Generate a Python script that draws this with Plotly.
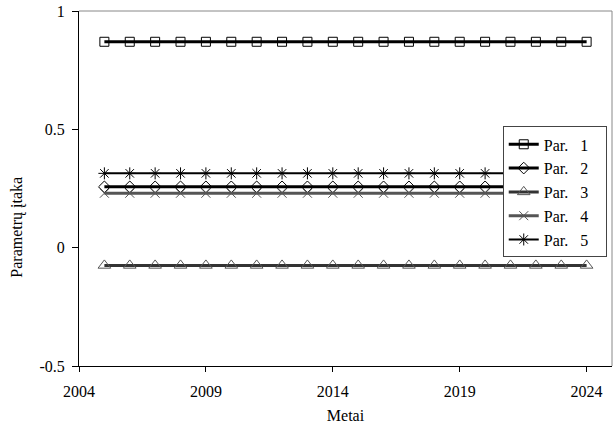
import plotly.graph_objects as go

years = list(range(2005, 2025))
par1 = [0.87] * 20
par2 = [0.257] * 20
par3 = [-0.075] * 20
par4 = [0.230] * 20
par5 = [0.314] * 20

NB = "\u00a0"
series_names = [f"Par.{NB*3}{k}{NB*3}" for k in range(1, 6)]
series_vals = [par1, par2, par3, par4, par5]
styles = [
    dict(line=dict(color="black", width=3), marker=dict(symbol="square-open", size=9, color="black", line=dict(width=1))),
    dict(line=dict(color="black", width=3), marker=dict(symbol="diamond-open", size=9, color="black", line=dict(width=1))),
    dict(line=dict(color="#333333", width=3), marker=dict(symbol="triangle-up-open", size=11, color="#555555", line=dict(width=1))),
    dict(line=dict(color="#555555", width=3), marker=dict(symbol="x-thin-open", size=9, color="#555555", line=dict(width=1, color="#555555"))),
    dict(line=dict(color="black", width=2), marker=dict(symbol="asterisk-open", size=10, color="black", line=dict(width=1, color="black"))),
]

x_ticks = [2004, 2009, 2014, 2019, 2024]
y_ticks = [-0.5, 0, 0.5, 1]
y_ticklabels = ["-0.5", "0", "0.5", "1"]
x_title = "Metai"
y_title = "Parametrų įtaka"

FAM = "Liberation Serif"
FS = 16

fig = go.Figure()
for i, (name, vals, st) in enumerate(zip(series_names, series_vals, styles)):
    fig.add_trace(go.Scatter(x=years, y=vals, mode="lines+markers", name=name,
                             legendgroup=str(i), **st))

font = dict(family=FAM, size=FS, color="black")
fig.update_layout(
    width=613, height=433,
    margin=dict(l=79, r=1, t=11, b=67),
    paper_bgcolor="white", plot_bgcolor="white",
    font=font,
    showlegend=True,
    legend=dict(x=0.795, y=0.675, xanchor="left", yanchor="top",
                bordercolor="#444444", borderwidth=1, bgcolor="white",
                font=dict(family=FAM, size=FS, color="black"),
                tracegroupgap=0, traceorder="grouped", itemwidth=30),
    xaxis=dict(range=[2004, 2025], tickvals=x_ticks, showgrid=False, zeroline=False,
               showline=True, linecolor="black", linewidth=1,
               ticks="outside", ticklen=5, tickcolor="black", automargin=False,
               ticklabelstandoff=6,
               tickfont=dict(family=FAM, size=FS),
               title=dict(text=x_title, standoff=10, font=dict(family=FAM, size=FS))),
    yaxis=dict(range=[-0.5, 1], tickvals=y_ticks, ticktext=y_ticklabels,
               showgrid=False, zeroline=False,
               showline=True, linecolor="black", linewidth=1,
               ticks="outside", ticklen=6, tickcolor="black", automargin=False,
               ticklabelstandoff=4,
               tickfont=dict(family=FAM, size=FS)),
    annotations=[
        dict(text=y_title, textangle=-90, xref="paper", yref="paper",
             x=-0.118, y=0.39, xanchor="center", yanchor="middle", showarrow=False,
             font=dict(family=FAM, size=FS, color="black")),
    ],
    shapes=[
        dict(type="line", xref="paper", yref="paper", x0=0, x1=1, y0=1, y1=1,
             line=dict(color="#888888", width=1)),
        dict(type="line", xref="paper", yref="paper", x0=1, x1=1, y0=0, y1=1,
             line=dict(color="#888888", width=1)),
    ],
)

fig.write_html("out.html", config={"displayModeBar": False},
               post_script="document.body.style.margin='0';document.body.style.overflow='hidden';")
